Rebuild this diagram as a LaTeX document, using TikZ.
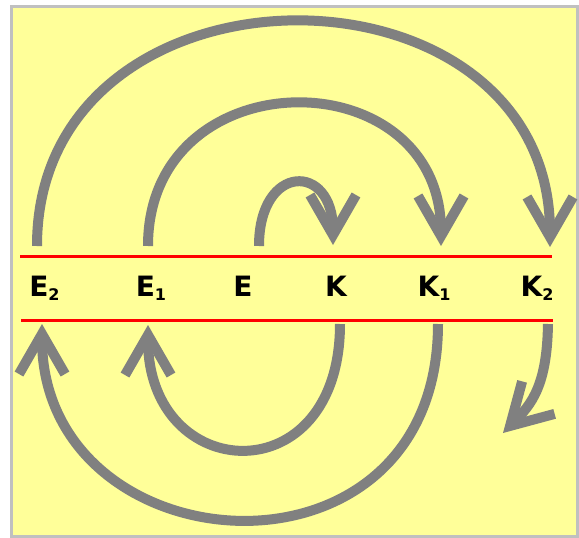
\documentclass[tikz,border=0pt]{standalone}
\usepackage{fontspec}
\setsansfont{DejaVu Sans}
\usetikzlibrary{arrows.meta}

\definecolor{paleyellow}{HTML}{FFFF99}
\definecolor{framegray}{HTML}{C0C0C0}
\newcommand\lowidx[1]{\raisebox{-4pt}{\fontsize{16}{16}\selectfont #1}}

\begin{document}
\begin{tikzpicture}[
        x=1pt, y=-1pt,
        letter/.style={anchor=base, inner sep=0pt, font=\sffamily\bfseries\fontsize{28}{32}\selectfont},
        loop/.style={draw=gray, line width=10pt, -{Straight Barb[length=40pt, width=46pt]}},
        band/.style={red, line width=3pt}
    ]
        \useasboundingbox (0,0) rectangle (579,538);

        % Background
        \draw[framegray, fill=paleyellow, line width=3pt] (11.5,6.5) rectangle (577.5,536.5);

        % Lines
        \draw[band] (20,256) -- (552,256);
        \draw[band] (21,320) -- (553,320);

        % Nodes
        \node[letter] (E2) at (44.5,296) {E\lowidx{2}};
        \node[letter] (E1) at (151,296) {E\lowidx{1}};
        \node[letter] (E) at (243,296) {E};
        \node[letter] (K) at (336,296) {K};
        \node[letter] (K1) at (434,296) {K\lowidx{1}};
        \node[letter] (K2) at (537,296) {K\lowidx{2}};

        % Ends of the loops
        \coordinate (e2-top) at (37,246);
        \coordinate (e1-top) at (148,246);
        \coordinate (e-top) at (259,246);
        \coordinate (k-top) at (333,245);
        \coordinate (k1-top) at (441,246);
        \coordinate (k2-top) at (550,247);
        \coordinate (e2-bot) at (42,324);
        \coordinate (e1-bot) at (148,325);
        \coordinate (k-bot) at (340,324);
        \coordinate (k1-bot) at (438,324);
        \coordinate (k2-bot) at (548,324);
        \coordinate (k2-end) at (503,433);

        % Paths
        \draw[loop] (e-top) .. controls +(0,-83) and +(0,-83) .. (k-top);
        \draw[loop] (e1-top) .. controls +(0,-189) and +(0,-189) .. (k1-top);
        \draw[loop] (e2-top) .. controls +(0,-299) and +(0,-299) .. (k2-top);
        \draw[loop] (k-bot) .. controls +(0,172) and +(0,160) .. (e1-bot);
        \draw[loop] (k1-bot) .. controls +(0,275) and +(0,245) .. (e2-bot);
        \draw[loop] (k2-bot) .. controls +(-1,61) and +(29,-29) .. (k2-end);

    \end{tikzpicture}
\end{document}
